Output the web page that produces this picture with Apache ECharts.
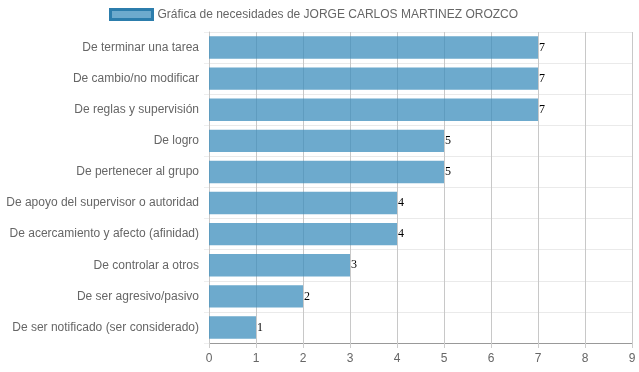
<!DOCTYPE html>
<html><head><meta charset="utf-8">
<script src="https://cdn.jsdelivr.net/npm/echarts@6/dist/echarts.min.js"></script>
<style>html,body{margin:0;padding:0;background:#fff}#c{width:639px;height:372px}</style>
</head><body><div id="c"></div>
<script>
const categories = [
  "De terminar una tarea",
  "De cambio/no modificar",
  "De reglas y supervisión",
  "De logro",
  "De pertenecer al grupo",
  "De apoyo del supervisor o autoridad",
  "De acercamiento y afecto (afinidad)",
  "De controlar a otros",
  "De ser agresivo/pasivo",
  "De ser notificado (ser considerado)"
];
const values = [7, 7, 7, 5, 5, 4, 4, 3, 2, 1];
const seriesName = "Gráfica de necesidades de JORGE CARLOS MARTINEZ OROZCO";

const chart = echarts.init(document.getElementById('c'), null, {renderer: 'canvas'});
chart.setOption({
  animation: false,
  legend: {
    top: 3, left: 104, padding: 5,
    icon: 'rect',
    itemWidth: 42, itemHeight: 10, itemGap: 8,
    textStyle: {fontFamily: 'Liberation Sans, Arial', fontSize: 12, color: '#666'},
    data: [{name: seriesName, itemStyle: {color: 'rgba(60,141,188,0.75)', borderColor: 'rgb(44,125,172)', borderWidth: 3}}]
  },
  grid: {left: 209, right: 7, top: 32, bottom: 29, containLabel: false},
  xAxis: {
    type: 'value', min: 0, max: 9, interval: 1,
    axisLine: {show: true, lineStyle: {color: '#999', width: 1}},
    axisTick: {show: true, length: 5, lineStyle: {color: '#ccc'}},
    axisLabel: {fontFamily: 'Liberation Sans, Arial', fontSize: 12, color: '#666', margin: 10},
    splitLine: {show: true, lineStyle: {color: '#c8c8c8', width: 1}}
  },
  yAxis: {
    type: 'category', inverse: true, data: categories,
    axisLine: {show: true, lineStyle: {color: '#c8c8c8'}},
    axisTick: {show: true, length: 5, lineStyle: {color: '#eee'}},
    axisLabel: {fontFamily: 'Liberation Sans, Arial', fontSize: 12, color: '#666', margin: 10},
    splitLine: {show: true, lineStyle: {color: '#eaeaea', width: 1}}
  },
  series: [{
    name: seriesName, type: 'bar', data: values,
    barCategoryGap: '28%',
    itemStyle: {color: 'rgba(60,141,188,0.75)'},
    label: {show: true, position: 'right', distance: 1,
      fontFamily: 'Liberation Serif, Times New Roman, serif', fontSize: 12, color: '#000'}
  }]
});
</script></body></html>
